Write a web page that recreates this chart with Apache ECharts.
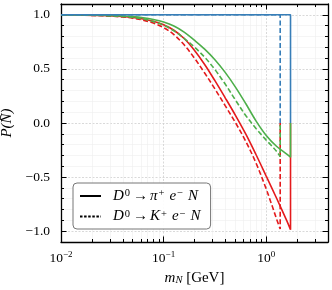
<!DOCTYPE html>
<html><head><meta charset="utf-8">
<script src="https://cdn.jsdelivr.net/npm/echarts@6/dist/echarts.min.js"></script>
<style>html,body{margin:0;padding:0;background:#fff}#c{width:332px;height:290px}</style>
</head><body><div id="c"></div>
<script>
// ---- tick values ----
const xMajorTicks = [0.01, 0.1, 1];
const xMinorTicks = [0.02,0.03,0.04,0.05,0.06,0.07,0.08,0.09,0.2,0.3,0.4,0.5,0.6,0.7,0.8,0.9,2,3,4];
const yMajorTicks = [-1, -0.5, 0, 0.5, 1];
const yMinorTicks = [-0.9,-0.8,-0.7,-0.6,-0.4,-0.3,-0.2,-0.1,0.1,0.2,0.3,0.4,0.6,0.7,0.8,0.9];

// ---- series data (m_N in GeV, P) ----
const mPi    = [0.01,0.01585,0.02512,0.03981,0.05012,0.0631,0.07943,0.1,0.1259,0.1585,0.1995,0.2512,0.3162,0.3981,0.5012,0.631,0.7943,1.0,1.259,1.585,1.725,1.725];
const greenPi= [0.999,0.998,0.996,0.989,0.983,0.973,0.957,0.933,0.896,0.84,0.765,0.683,0.585,0.468,0.332,0.18,0.02,-0.115,-0.215,-0.287,-0.316,0];
const redPi  = [0.999,0.9976,0.9939,0.9847,0.9759,0.962,0.9405,0.9073,0.857,0.781,0.673,0.541,0.391,0.233,0.071,-0.101,-0.291,-0.491,-0.693,-0.903,-0.986,0];
const mK     = [0.01,0.01585,0.02512,0.03981,0.05012,0.0631,0.07943,0.1,0.1259,0.1585,0.1995,0.2512,0.3162,0.3981,0.5012,0.631,0.7943,1.0,1.122,1.259,1.368,1.368];
const greenK = [0.999,0.997,0.9935,0.984,0.975,0.961,0.938,0.904,0.852,0.782,0.702,0.608,0.494,0.36,0.212,0.07,-0.05,-0.158,-0.208,-0.262,-0.31,0];
const redK   = [0.9987,0.9968,0.992,0.98,0.969,0.951,0.9235,0.8815,0.8175,0.7225,0.6005,0.4625,0.3145,0.1605,0.0035,-0.1685,-0.3685,-0.61,-0.745,-0.885,-0.98,0];
const mBluePi = [0.01,1.725,1.725];
const bluePi  = [1,1,0];
const mBlueK  = [0.01,1.368,1.368];
const blueK   = [1,1,0];

const legendNames = ['pi','K'];
const legendLabels = [
  '{sp|}{it|D}{sup|0}{ar|→}{it|π}{sup2|+}{it|e}{sup2|−}{it|N}',
  '{sp|}{it|D}{sup|0}{ar|→}{it|K}{sup2|+}{it|e}{sup2|−}{it|N}'
];

const SERIF = 'Liberation Serif';
const BLUE = '#377eb8', RED = '#e41a1c', GREEN = '#4daf4a';
const zip = (xs, ys) => xs.map((x, i) => [x, ys[i]]);

function xAx(pos, ticks, major, labels) {
  return {
    type: 'log', logBase: 10, min: 0.01, max: 4, position: pos,
    axisLine: { show: major, onZero: false, lineStyle: { color: '#000', width: 1.3 } },
    axisTick: { show: true, inside: true, length: major ? 5.5 : 3, customValues: ticks,
      lineStyle: { color: '#000', width: 1 } },
    minorTick: { show: false },
    axisLabel: labels ? {
      show: true, customValues: ticks, margin: 8,
      formatter: v => '{b|10}{s|' + String(Math.round(Math.log10(v))).replace('-', '−') + '}',
      rich: {
        b: { fontFamily: SERIF, fontSize: 13.5, color: '#000', lineHeight: 17 },
        s: { fontFamily: SERIF, fontSize: 9, color: '#000', verticalAlign: 'top', lineHeight: 10 }
      }
    } : { show: false },
    splitLine: pos === 'bottom' ? { show: true, lineStyle: major
        ? { color: '#cfcfcf', width: 0.8, type: [2, 1.5] }
        : { color: '#eeeeee', width: 0.6 } } : { show: false },
    name: labels ? '{i|m}{s|N} [GeV]' : '',
    nameLocation: 'middle', nameGap: 27,
    nameTextStyle: { fontFamily: SERIF, fontSize: 15, color: '#000',
      rich: {
        i: { fontFamily: SERIF, fontStyle: 'italic', fontSize: 15, color: '#000' },
        s: { fontFamily: SERIF, fontStyle: 'italic', fontSize: 10.5, color: '#000', verticalAlign: 'bottom', padding: [5,0,0,0] }
      } }
  };
}
function yAx(pos, ticks, major, labels) {
  return {
    type: 'value', min: -1.1, max: 1.1, position: pos,
    axisLine: { show: major, onZero: false, lineStyle: { color: '#000', width: 1.3 } },
    axisTick: { show: true, inside: true, length: major ? 5.5 : 3, customValues: ticks,
      lineStyle: { color: '#000', width: 1 } },
    minorTick: { show: false },
    axisLabel: labels ? {
      show: true, customValues: ticks, margin: 11,
      fontFamily: SERIF, fontSize: 13.5, color: '#000',
      formatter: v => v.toFixed(1).replace('-', '−')
    } : { show: false },
    splitLine: pos === 'left' ? { show: true, lineStyle: major
        ? { color: '#cfcfcf', width: 0.8, type: [2, 1.5] }
        : { color: '#eeeeee', width: 0.6 } } : { show: false },
    name: labels ? 'P(N\u0304)' : '',
    nameLocation: 'middle', nameGap: 38, nameRotate: 90,
    nameTextStyle: { fontFamily: SERIF, fontStyle: 'italic', fontSize: 15, color: '#000' }
  };
}

const lineS = (name, data, color, dashed, z) => ({
  name, type: 'line', data, symbol: 'none', smooth: 0.35, z,
  xAxisIndex: 0, yAxisIndex: 0, animation: false,
  lineStyle: { color, width: 1.6, type: dashed ? [5, 2.5] : 'solid' },
  itemStyle: { color }
});

const chart = echarts.init(document.getElementById('c'), null, { renderer: 'canvas' });
chart.setOption({
  animation: false,
  backgroundColor: '#fff',
  grid: { left: 61, right: 4, top: 4, bottom: 48, containLabel: false, outerBoundsMode: 'none' },
  xAxis: [ xAx('bottom', xMajorTicks, true, true), xAx('bottom', xMinorTicks, false, false),
           xAx('top', xMajorTicks, true, false), xAx('top', xMinorTicks, false, false) ],
  yAxis: [ yAx('left', yMajorTicks, true, true), yAx('left', yMinorTicks, false, false),
           yAx('right', yMajorTicks, true, false), yAx('right', yMinorTicks, false, false) ],
  legend: {
    orient: 'vertical', left: 73, top: 183, padding: [5, 10, 5, 6], itemGap: 5,
    itemWidth: 21, itemHeight: 14,
    borderColor: '#777', borderWidth: 1, borderRadius: 4, backgroundColor: 'rgba(255,255,255,0.92)',
    itemStyle: { color: 'rgba(0,0,0,0)', borderColor: 'rgba(0,0,0,0)', borderWidth: 0, opacity: 0 },
    data: legendNames,
    formatter: n => legendLabels[legendNames.indexOf(n)],
    textStyle: { fontFamily: SERIF, fontSize: 15, color: '#000',
      rich: {
        sp: { width: 7 },
        it: { fontFamily: SERIF, fontStyle: 'italic', fontSize: 15, color: '#000', lineHeight: 16 },
        sup: { fontFamily: SERIF, fontSize: 10.5, color: '#000', verticalAlign: 'top', lineHeight: 10, padding: [0, 1, 0, 1] },
        sup2: { fontFamily: SERIF, fontSize: 10.5, color: '#000', verticalAlign: 'top', lineHeight: 10, padding: [0, 5, 0, 1] },
        ar: { fontFamily: SERIF, fontSize: 15, color: '#000', lineHeight: 16, padding: [0, 2, 0, 2] }
      } }
  },
  series: [
    { name: 'pi', type: 'line', data: [], symbol: 'none', lineStyle: { color: '#000', width: 1.1, type: 'solid' }, itemStyle: { color: '#000' } },
    { name: 'K', type: 'line', data: [], symbol: 'none', lineStyle: { color: '#000', width: 1.1, type: [2.5, 1.6] }, itemStyle: { color: '#000' } },
    lineS('redK', zip(mK, redK), RED, true, 2),
    lineS('greenK', zip(mK, greenK), GREEN, true, 3),
    lineS('blueK', zip(mBlueK, blueK), BLUE, true, 4),
    lineS('redPi', zip(mPi, redPi), RED, false, 2),
    lineS('greenPi', zip(mPi, greenPi), GREEN, false, 3),
    lineS('bluePi', zip(mBluePi, bluePi), BLUE, false, 4)
  ]
});
</script></body></html>
